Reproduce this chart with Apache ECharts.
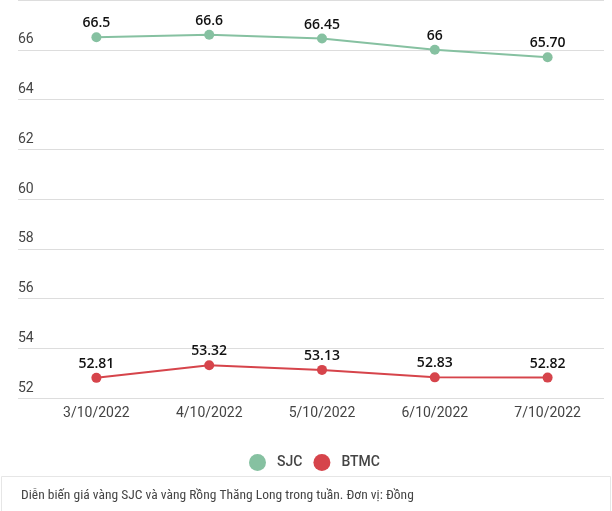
<!DOCTYPE html>
<html><head><meta charset="utf-8">
<script src="https://cdn.jsdelivr.net/npm/echarts@6/dist/echarts.min.js"></script>
<style>html,body{margin:0;padding:0;background:#fff}#c{width:612px;height:511px}</style>
</head><body><div id="c"></div>
<script>
const categories = ['3/10/2022','4/10/2022','5/10/2022','6/10/2022','7/10/2022'];
const sjc = [66.5, 66.6, 66.45, 66, 65.70];
const sjcLabels = ['66.5','66.6','66.45','66','65.70'];
const btmc = [52.81, 53.32, 53.13, 52.83, 52.82];
const btmcLabels = ['52.81','53.32','53.13','52.83','52.82'];
const yTicks = [52, 54, 56, 58, 60, 62, 64, 66];
const caption = 'Diễn biến giá vàng SJC và vàng Rồng Thăng Long trong tuần. Đơn vị: Đồng';

const chart = echarts.init(document.getElementById('c'));
const F = 'Roboto, sans-serif';
const LF = '"Open Sans", Roboto, sans-serif';
chart.setOption({
  animation: false,
  textStyle: {fontFamily: F},
  grid: [
    {left: 18, right: 8, top: -3, bottom: 113},
    {left: 40, right: 8, top: -3, bottom: 113}
  ],
  xAxis: [
    {gridIndex: 0, type: 'value', show: false},
    {gridIndex: 1, type: 'category', data: categories, boundaryGap: true,
     axisLine: {show: false}, axisTick: {show: false},
     axisLabel: {color: '#444', fontSize: 14, margin: 8, fontFamily: F}}
  ],
  yAxis: [
    {gridIndex: 0, type: 'value', min: 52, max: 68, interval: 2,
     axisLine: {show: false}, axisTick: {show: false},
     splitLine: {lineStyle: {color: '#dddddd', width: 1}},
     axisLabel: {inside: true, margin: 0, color: '#444', fontSize: 14, fontFamily: F,
       verticalAlign: 'bottom', padding: [0,0,3,0],
       formatter: v => yTicks.indexOf(v) >= 0 ? String(v) : ''}},
    {gridIndex: 1, type: 'value', min: 52, max: 68, interval: 2, show: false,
     splitLine: {show: false}}
  ],
  legend: {
    top: 449, left: 244, icon: 'circle', itemWidth: 17, itemHeight: 17, itemGap: 11,
    textStyle: {color: '#444', fontSize: 14, fontWeight: 500, fontFamily: F, padding: [0,0,0,6]},
    data: ['SJC', 'BTMC']
  },
  graphic: [
    {type: 'rect', shape: {x: 1.5, y: 476.5, width: 609, height: 40},
     style: {fill: 'none', stroke: '#e6e6e6', lineWidth: 1}},
    {type: 'text', left: 21, top: 489,
     style: {text: caption, fill: '#444', font: '13.5px "Liberation Sans Narrow", "Roboto Condensed", Roboto, sans-serif'}}
  ],
  series: [
    {name: 'SJC', type: 'line', xAxisIndex: 1, yAxisIndex: 1, data: sjc,
     color: '#86c1a1', symbol: 'circle', symbolSize: 10, lineStyle: {width: 2},
     label: {show: true, position: 'top', distance: 2, color: '#111', fontSize: 14, fontWeight: 600, fontFamily: LF,
       formatter: p => sjcLabels[p.dataIndex]}},
    {name: 'BTMC', type: 'line', xAxisIndex: 1, yAxisIndex: 1, data: btmc,
     color: '#d6444b', symbol: 'circle', symbolSize: 10, lineStyle: {width: 2},
     label: {show: true, position: 'top', distance: 2, color: '#111', fontSize: 14, fontWeight: 600, fontFamily: LF,
       formatter: p => btmcLabels[p.dataIndex]}}
  ]
});
</script></body></html>
